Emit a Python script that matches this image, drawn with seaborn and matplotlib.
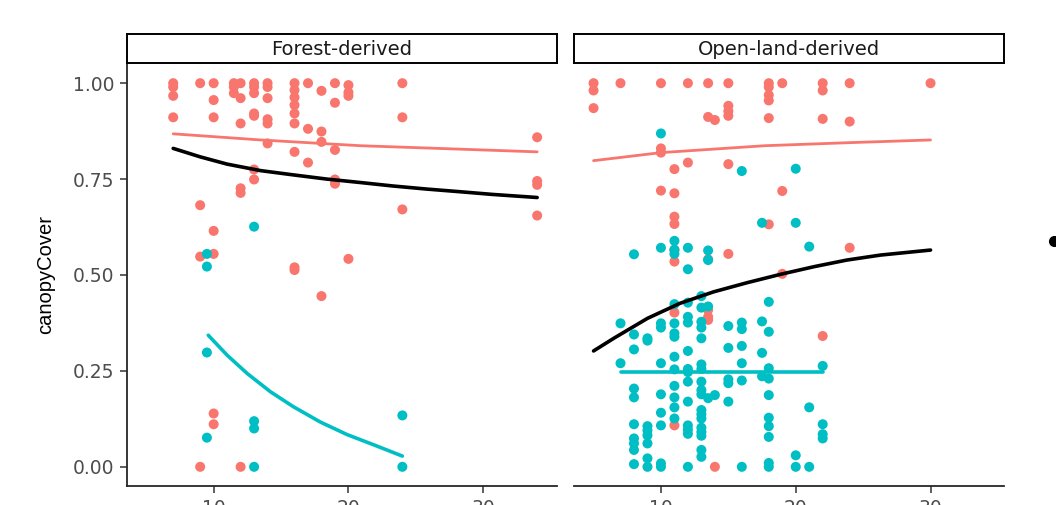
import numpy as np
import pandas as pd
import matplotlib
matplotlib.use('Agg')
import matplotlib.pyplot as plt
from matplotlib.lines import Line2D
import seaborn as sns

# ---- data ----
# Forest-derived panel
forest_red_x = [7, 7, 7, 7,
                9, 9, 9, 9,
                10, 10, 10, 10, 10, 10, 10,
                11.5, 11.5, 11.5,
                12, 12, 12, 12, 12, 12,
                13, 13, 13, 13, 13, 13, 13,
                14, 14, 14, 14, 14, 14,
                16, 16, 16, 16, 16, 16, 16, 16, 16,
                17, 17, 17,
                18, 18, 18, 18,
                19, 19, 19, 19, 19,
                20, 20, 20, 20,
                24, 24, 24,
                34, 34, 34, 34]
forest_red_y = [1.00, 0.99, 0.967, 0.911,
                1.00, 0.682, 0.548, 0.0,
                1.00, 0.956, 0.911, 0.615, 0.555, 0.139, 0.111,
                1.00, 0.99, 0.974,
                1.00, 0.961, 0.895, 0.726, 0.714, 0.0,
                1.00, 0.99, 0.974, 0.921, 0.915, 0.775, 0.749,
                1.00, 0.99, 0.961, 0.906, 0.895, 0.843,
                1.00, 0.982, 0.963, 0.943, 0.921, 0.895, 0.821, 0.52, 0.513,
                1.00, 0.881, 0.793,
                0.98, 0.874, 0.847, 0.445,
                1.00, 0.949, 0.826, 0.749, 0.738,
                0.995, 0.976, 0.967, 0.542,
                1.00, 0.911, 0.671,
                0.859, 0.745, 0.735, 0.655]
forest_teal_x = [9.5, 9.5, 9.5, 9.5, 13, 13, 13, 13, 24, 24]
forest_teal_y = [0.555, 0.522, 0.298, 0.076, 0.626, 0.119, 0.100, 0.0, 0.134, 0.0]

# Open-land-derived panel
open_red_x = [5, 5, 5,
              7,
              10, 10, 10, 10,
              11, 11, 11, 11, 11, 11, 11, 11,
              12, 12,
              13.5, 13.5, 13.5, 13.5, 13.5, 13.5,
              14, 14,
              15, 15, 15, 15, 15, 15,
              18, 18, 18, 18, 18, 18,
              19, 19, 19,
              22, 22, 22, 22,
              24, 24, 24,
              30]
open_red_y = [1.0, 0.981, 0.935,
              1.0,
              1.0, 0.83, 0.819, 0.72,
              0.776, 0.713, 0.652, 0.633, 0.565, 0.535, 0.402, 0.108,
              1.0, 0.793,
              1.0, 0.912, 0.541, 0.409, 0.391, 0.383,
              0.904, 0.0,
              1.0, 0.941, 0.927, 0.915, 0.789, 0.555,
              1.0, 0.99, 0.969, 0.955, 0.909, 0.632,
              1.0, 0.719, 0.503,
              1.0, 0.981, 0.907, 0.341,
              1.0, 0.900, 0.571,
              1.0]
open_teal_x = [7, 7,
               8, 8, 8, 8, 8, 8, 8, 8, 8, 8,
               9, 9, 9, 9, 9, 9, 9, 9,
               10, 10, 10, 10, 10, 10, 10, 10, 10, 10,
               11, 11, 11, 11, 11, 11, 11, 11, 11, 11, 11, 11, 11,
               12, 12, 12, 12, 12, 12, 12, 12, 12, 12, 12, 12, 12, 12,
               13, 13, 13, 13, 13, 13, 13, 13, 13, 13, 13, 13, 13, 13, 13, 13, 13, 13,
               13.5, 13.5, 13.5, 13.5,
               14,
               15, 15, 15, 15, 15,
               16, 16, 16, 16, 16, 16, 16,
               17.5, 17.5, 17.5, 17.5,
               18, 18, 18, 18, 18, 18, 18, 18, 18, 18,
               20, 20, 20, 20,
               21, 21, 21,
               22, 22, 22, 22]
open_teal_y = [0.374, 0.270,
               0.554, 0.345, 0.306, 0.204, 0.181, 0.111, 0.074, 0.061, 0.044, 0.007,
               0.335, 0.329, 0.106, 0.095, 0.082, 0.061, 0.022, 0.0,
               0.869, 0.571, 0.374, 0.363, 0.270, 0.189, 0.141, 0.108, 0.009, 0.0,
               0.589, 0.566, 0.555, 0.424, 0.374, 0.348, 0.339, 0.287, 0.254, 0.211, 0.181, 0.155, 0.126,
               0.571, 0.515, 0.428, 0.391, 0.376, 0.302, 0.255, 0.247, 0.222, 0.170, 0.108, 0.097, 0.086, 0.0,
               0.445, 0.415, 0.378, 0.363, 0.335, 0.267, 0.255, 0.222, 0.200, 0.189, 0.148, 0.137, 0.126,
               0.102, 0.091, 0.081, 0.044, 0.026,
               0.564, 0.539, 0.418, 0.179,
               0.187,
               0.367, 0.310, 0.228, 0.218, 0.170,
               0.771, 0.376, 0.359, 0.315, 0.270, 0.225, 0.0,
               0.636, 0.379, 0.297, 0.236,
               0.430, 0.352, 0.257, 0.230, 0.187, 0.128, 0.106, 0.078, 0.010, 0.0,
               0.777, 0.636, 0.030, 0.0,
               0.574, 0.155, 0.0,
               0.263, 0.111, 0.085, 0.074]

# fitted curves (read at several x positions along each curve)
forest_red_fit_x = [7.0, 13.5, 20.9, 28.3, 34.0]
forest_red_fit_y = [0.868, 0.852, 0.837, 0.828, 0.821]
forest_all_fit_x = [7.0, 9.0, 11.0, 13.5, 15.9, 18.4, 20.9, 23.3, 25.8, 28.3, 30.7, 34.0]
forest_all_fit_y = [0.830, 0.808, 0.789, 0.772, 0.761, 0.750, 0.741, 0.732, 0.724, 0.717, 0.710, 0.702]
forest_teal_fit_x = [9.6, 11.0, 12.5, 14.2, 15.9, 17.9, 19.9, 21.9, 24.0]
forest_teal_fit_y = [0.343, 0.291, 0.243, 0.196, 0.157, 0.117, 0.084, 0.057, 0.028]

open_red_fit_x = [5.0, 10.0, 17.7, 24.0, 30.0]
open_red_fit_y = [0.798, 0.819, 0.837, 0.845, 0.852]
open_all_fit_x = [5.0, 6.5, 9.0, 11.4, 13.9, 16.4, 18.9, 21.4, 23.8, 26.3, 30.0]
open_all_fit_y = [0.302, 0.335, 0.387, 0.426, 0.456, 0.480, 0.502, 0.522, 0.539, 0.552, 0.565]
open_teal_fit_x = [7, 22]
open_teal_fit_y = [0.246, 0.246]

panels = ['Forest-derived', 'Open-land-derived']
y_ticks = [0.0, 0.25, 0.50, 0.75, 1.00]
y_ticklabels = ['0.00', '0.25', '0.50', '0.75', '1.00']
x_ticks = [10, 20, 30]

RED = '#F8766D'
TEAL = '#00BFC4'
pal = {'red': RED, 'teal': TEAL}


def points(rx, ry, tx, ty):
    return pd.DataFrame({
        'x': rx + tx,
        'canopyCover': ry + ty,
        'grp': ['red'] * len(rx) + ['teal'] * len(tx),
    })


pts = [points(forest_red_x, forest_red_y, forest_teal_x, forest_teal_y),
       points(open_red_x, open_red_y, open_teal_x, open_teal_y)]
fits = [[(forest_red_fit_x, forest_red_fit_y, RED, 2.0),
         (forest_all_fit_x, forest_all_fit_y, 'black', 2.6),
         (forest_teal_fit_x, forest_teal_fit_y, TEAL, 2.6)],
        [(open_red_fit_x, open_red_fit_y, RED, 2.0),
         (open_all_fit_x, open_all_fit_y, 'black', 2.6),
         (open_teal_fit_x, open_teal_fit_y, TEAL, 2.6)]]

sns.set_style('ticks')
plt.rcParams['font.family'] = ['DejaVu Sans']

fig = plt.figure(figsize=(10.56, 5.05), dpi=100)
W, H = 1056.0, 505.0
lefts = [126.7, 574.0]
pw = 430.0
top, bottom = 64.0, 486.0

for i, name in enumerate(panels):
    ax = fig.add_axes([lefts[i] / W, (H - bottom) / H, pw / W, (bottom - top) / H])
    sns.scatterplot(data=pts[i], x='x', y='canopyCover', hue='grp', palette=pal,
                    s=52, linewidth=0, legend=False, ax=ax, zorder=2)
    for fx, fy, col, lw in fits[i]:
        sns.lineplot(x=fx, y=fy, color=col, linewidth=lw, estimator=None,
                     sort=True, ax=ax, zorder=3)
    ax.set_xlim(3.55, 35.45)
    ax.set_ylim(-0.05, 1.05)
    ax.set_xticks(x_ticks)
    ax.set_xticklabels([str(t) for t in x_ticks])
    ax.set_xlabel('')
    for s in ['top', 'right']:
        ax.spines[s].set_visible(False)
    ax.spines['bottom'].set_linewidth(1.3)
    ax.spines['left'].set_linewidth(1.3)
    ax.tick_params(axis='both', length=5, width=1.1, color='#333333',
                   labelcolor='#4D4D4D', labelsize=13.5, pad=4)
    if i == 0:
        ax.set_yticks(y_ticks)
        ax.set_yticklabels(y_ticklabels)
        ax.set_ylabel('canopyCover', family='Liberation Sans', fontsize=14.5,
                      color='black', labelpad=13)
    else:
        ax.spines['left'].set_visible(False)
        ax.set_yticks(y_ticks)
        ax.tick_params(axis='y', left=False, labelleft=False)
        ax.set_ylabel('')

    # facet strip
    sax = fig.add_axes([lefts[i] / W, (H - 63.0) / H, pw / W, 29.0 / H])
    sax.set_xticks([])
    sax.set_yticks([])
    for s in sax.spines.values():
        s.set_visible(True)
        s.set_linewidth(1.4)
        s.set_color('black')
    sax.text(0.5, 0.45, name, ha='center', va='center', fontsize=14,
             color='#1A1A1A', transform=sax.transAxes)

# legend, cut off at the right edge
fig.legend(handles=[Line2D([], [], marker='o', color='black', linestyle='',
                           markersize=7)],
           labels=[' '], loc='center left',
           bbox_to_anchor=(1048.5 / W, (H - 242.0) / H),
           frameon=False, borderpad=0, borderaxespad=0,
           handlelength=0.8, handletextpad=0.2)

fig.savefig('out.png', dpi=100)
